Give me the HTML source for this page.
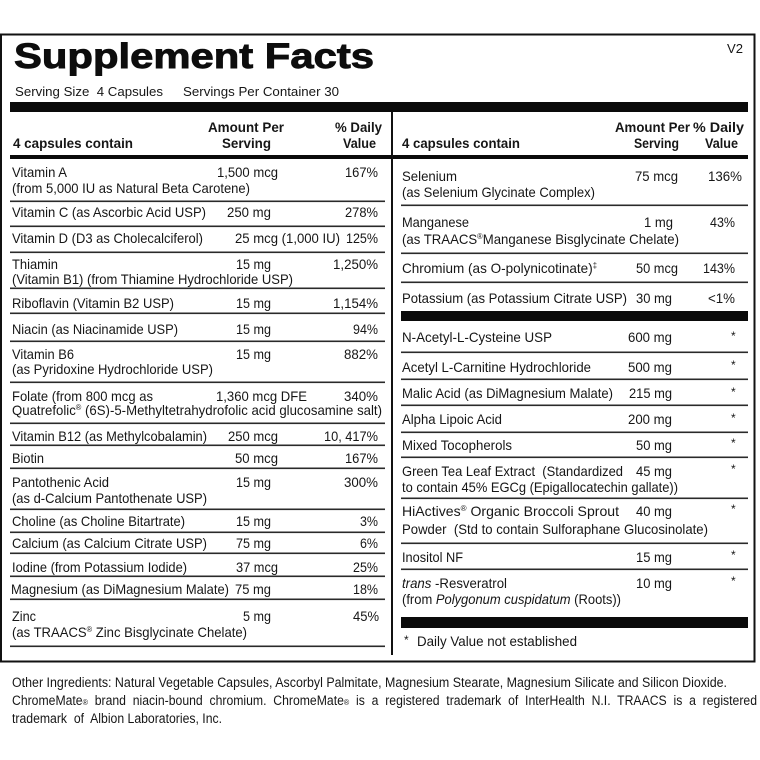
<!DOCTYPE html>
<html><head><meta charset="utf-8"><style>
html,body{margin:0;padding:0;background:#fff;}
svg{display:block;}
text{font-family:"Liberation Sans",Arial,sans-serif;font-size:14px;fill:#161616;}
.b{font-weight:bold;}
.s{font-size:13px;}
.f{font-size:13.5px;}
.t{font-size:35px;font-weight:bold;fill:#0d0d0d;stroke:#0d0d0d;stroke-width:0.9px;}
.a{font-size:12px;}
</style></head><body>
<svg width="760" height="760" viewBox="0 0 760 760" xmlns="http://www.w3.org/2000/svg">
<rect x="0" y="0" width="760" height="760" fill="#fff"/>
<rect x="1" y="34.5" width="753.5" height="627" fill="none" stroke="#111" stroke-width="2"/>
<text class="t" x="14" y="68" textLength="360" lengthAdjust="spacingAndGlyphs">Supplement Facts</text>
<text class="s" x="727" y="53" textLength="16" lengthAdjust="spacingAndGlyphs">V2</text>
<text class="s" x="15" y="96" textLength="148" lengthAdjust="spacingAndGlyphs" xml:space="preserve">Serving Size  4 Capsules</text>
<text class="s" x="183" y="96" textLength="156" lengthAdjust="spacingAndGlyphs">Servings Per Container 30</text>
<rect x="10" y="102" width="738" height="10" fill="#0a0a0a"/>
<rect x="391" y="112" width="2" height="543" fill="#111"/>
<rect x="10" y="155" width="382" height="4" fill="#0a0a0a"/>
<rect x="393" y="155" width="355" height="4" fill="#0a0a0a"/>
<text class="b" x="208" y="132" textLength="76" lengthAdjust="spacingAndGlyphs">Amount Per</text>
<text class="b" x="222" y="148" textLength="49" lengthAdjust="spacingAndGlyphs">Serving</text>
<text class="b" x="335" y="132" textLength="47" lengthAdjust="spacingAndGlyphs">% Daily</text>
<text class="b" x="343" y="148" textLength="33" lengthAdjust="spacingAndGlyphs">Value</text>
<text class="b" x="13" y="148" textLength="120" lengthAdjust="spacingAndGlyphs">4 capsules contain</text>
<text class="b" x="615" y="132" textLength="75" lengthAdjust="spacingAndGlyphs">Amount Per</text>
<text class="b" x="634" y="148" textLength="45" lengthAdjust="spacingAndGlyphs">Serving</text>
<text class="b" x="693" y="132" textLength="51" lengthAdjust="spacingAndGlyphs">% Daily</text>
<text class="b" x="705" y="148" textLength="33" lengthAdjust="spacingAndGlyphs">Value</text>
<text class="b" x="402" y="148" textLength="118" lengthAdjust="spacingAndGlyphs">4 capsules contain</text>

<g fill="#2a2a2a">
<rect x="10" y="200.5" width="375" height="1.6"/>
<rect x="10" y="225.5" width="375" height="1.6"/>
<rect x="10" y="251.5" width="375" height="1.6"/>
<rect x="10" y="287.5" width="375" height="1.6"/>
<rect x="10" y="312.5" width="375" height="1.6"/>
<rect x="10" y="340.5" width="375" height="1.6"/>
<rect x="10" y="381.5" width="375" height="1.6"/>
<rect x="10" y="422.5" width="375" height="1.6"/>
<rect x="10" y="444.5" width="375" height="1.6"/>
<rect x="10" y="467.5" width="375" height="1.6"/>
<rect x="10" y="508.5" width="375" height="1.6"/>
<rect x="10" y="531.5" width="375" height="1.6"/>
<rect x="10" y="552.5" width="375" height="1.6"/>
<rect x="10" y="575.5" width="375" height="1.6"/>
<rect x="10" y="598.5" width="375" height="1.6"/>
<rect x="10" y="645.5" width="375" height="1.6"/>
</g>

<text x="12" y="177" textLength="55" lengthAdjust="spacingAndGlyphs">Vitamin A</text>
<text x="217" y="177" textLength="61" lengthAdjust="spacingAndGlyphs">1,500 mcg</text>
<text x="345" y="177" textLength="33" lengthAdjust="spacingAndGlyphs">167%</text>
<text x="12" y="193" textLength="238" lengthAdjust="spacingAndGlyphs">(from 5,000 IU as Natural Beta Carotene)</text>

<text x="12" y="217" textLength="194" lengthAdjust="spacingAndGlyphs">Vitamin C (as Ascorbic Acid USP)</text>
<text x="227" y="217" textLength="44" lengthAdjust="spacingAndGlyphs">250 mg</text>
<text x="345" y="217" textLength="33" lengthAdjust="spacingAndGlyphs">278%</text>

<text x="12" y="243" textLength="191" lengthAdjust="spacingAndGlyphs">Vitamin D (D3 as Cholecalciferol)</text>
<text x="235" y="243" textLength="105" lengthAdjust="spacingAndGlyphs">25 mcg (1,000 IU)</text>
<text x="346" y="243" textLength="32" lengthAdjust="spacingAndGlyphs">125%</text>

<text x="12" y="269" textLength="46" lengthAdjust="spacingAndGlyphs">Thiamin</text>
<text x="236" y="269" textLength="35" lengthAdjust="spacingAndGlyphs">15 mg</text>
<text x="333" y="269" textLength="45" lengthAdjust="spacingAndGlyphs">1,250%</text>
<text x="12" y="284" textLength="281" lengthAdjust="spacingAndGlyphs">(Vitamin B1) (from Thiamine Hydrochloride USP)</text>

<text x="12" y="308" textLength="162" lengthAdjust="spacingAndGlyphs">Riboflavin (Vitamin B2 USP)</text>
<text x="236" y="308" textLength="35" lengthAdjust="spacingAndGlyphs">15 mg</text>
<text x="333" y="308" textLength="45" lengthAdjust="spacingAndGlyphs">1,154%</text>

<text x="12" y="334" textLength="166" lengthAdjust="spacingAndGlyphs">Niacin (as Niacinamide USP)</text>
<text x="236" y="334" textLength="35" lengthAdjust="spacingAndGlyphs">15 mg</text>
<text x="353" y="334" textLength="25" lengthAdjust="spacingAndGlyphs">94%</text>

<text x="12" y="359" textLength="62" lengthAdjust="spacingAndGlyphs">Vitamin B6</text>
<text x="236" y="359" textLength="35" lengthAdjust="spacingAndGlyphs">15 mg</text>
<text x="344" y="359" textLength="34" lengthAdjust="spacingAndGlyphs">882%</text>
<text x="12" y="374" textLength="201" lengthAdjust="spacingAndGlyphs">(as Pyridoxine Hydrochloride USP)</text>

<text x="12" y="401" textLength="141" lengthAdjust="spacingAndGlyphs">Folate (from 800 mcg as</text>
<text x="216" y="401" textLength="91" lengthAdjust="spacingAndGlyphs">1,360 mcg DFE</text>
<text x="344" y="401" textLength="34" lengthAdjust="spacingAndGlyphs">340%</text>
<text x="12" y="415" textLength="370" lengthAdjust="spacingAndGlyphs">Quatrefolic<tspan font-size="8" dy="-5">®</tspan><tspan dy="5"> (6S)-5-Methyltetrahydrofolic acid glucosamine salt)</tspan></text>

<text x="12" y="441" textLength="195" lengthAdjust="spacingAndGlyphs">Vitamin B12 (as Methylcobalamin)</text>
<text x="228" y="441" textLength="50" lengthAdjust="spacingAndGlyphs">250 mcg</text>
<text x="324" y="441" textLength="54" lengthAdjust="spacingAndGlyphs">10, 417%</text>

<text x="12" y="463" textLength="32" lengthAdjust="spacingAndGlyphs">Biotin</text>
<text x="235" y="463" textLength="43" lengthAdjust="spacingAndGlyphs">50 mcg</text>
<text x="345" y="463" textLength="33" lengthAdjust="spacingAndGlyphs">167%</text>

<text x="12" y="487" textLength="97" lengthAdjust="spacingAndGlyphs">Pantothenic Acid</text>
<text x="236" y="487" textLength="35" lengthAdjust="spacingAndGlyphs">15 mg</text>
<text x="344" y="487" textLength="34" lengthAdjust="spacingAndGlyphs">300%</text>
<text x="12" y="503" textLength="195" lengthAdjust="spacingAndGlyphs">(as d-Calcium Pantothenate USP)</text>

<text x="12" y="526" textLength="173" lengthAdjust="spacingAndGlyphs">Choline (as Choline Bitartrate)</text>
<text x="236" y="526" textLength="35" lengthAdjust="spacingAndGlyphs">15 mg</text>
<text x="360" y="526" textLength="18" lengthAdjust="spacingAndGlyphs">3%</text>

<text x="12" y="548" textLength="195" lengthAdjust="spacingAndGlyphs">Calcium (as Calcium Citrate USP)</text>
<text x="236" y="548" textLength="35" lengthAdjust="spacingAndGlyphs">75 mg</text>
<text x="360" y="548" textLength="18" lengthAdjust="spacingAndGlyphs">6%</text>

<text x="12" y="572" textLength="175" lengthAdjust="spacingAndGlyphs">Iodine (from Potassium Iodide)</text>
<text x="236" y="572" textLength="42" lengthAdjust="spacingAndGlyphs">37 mcg</text>
<text x="353" y="572" textLength="25" lengthAdjust="spacingAndGlyphs">25%</text>

<text x="11" y="594" textLength="218" lengthAdjust="spacingAndGlyphs">Magnesium (as DiMagnesium Malate)</text>
<text x="235" y="594" textLength="36" lengthAdjust="spacingAndGlyphs">75 mg</text>
<text x="353" y="594" textLength="25" lengthAdjust="spacingAndGlyphs">18%</text>

<text x="12" y="621" textLength="24" lengthAdjust="spacingAndGlyphs">Zinc</text>
<text x="243" y="621" textLength="28" lengthAdjust="spacingAndGlyphs">5 mg</text>
<text x="353" y="621" textLength="26" lengthAdjust="spacingAndGlyphs">45%</text>
<text x="12" y="637" textLength="235" lengthAdjust="spacingAndGlyphs">(as TRAACS<tspan font-size="8" dy="-5">®</tspan><tspan dy="5"> Zinc Bisglycinate Chelate)</tspan></text>

<g fill="#2a2a2a">
<rect x="401" y="204.5" width="347" height="1.6"/>
<rect x="401" y="252.5" width="347" height="1.6"/>
<rect x="401" y="281.5" width="347" height="1.6"/>
<rect x="401" y="351.5" width="347" height="1.6"/>
<rect x="401" y="378.5" width="347" height="1.6"/>
<rect x="401" y="404.5" width="347" height="1.6"/>
<rect x="401" y="431.5" width="347" height="1.6"/>
<rect x="401" y="456.5" width="347" height="1.6"/>
<rect x="401" y="497.5" width="347" height="1.6"/>
<rect x="401" y="542.5" width="347" height="1.6"/>
<rect x="401" y="568.5" width="347" height="1.6"/>
</g>
<rect x="401" y="311" width="347" height="10" fill="#0a0a0a"/>
<rect x="401" y="617" width="347" height="11" fill="#0a0a0a"/>

<text x="402" y="181" textLength="55" lengthAdjust="spacingAndGlyphs">Selenium</text>
<text x="635" y="181" textLength="43" lengthAdjust="spacingAndGlyphs">75 mcg</text>
<text x="708" y="181" textLength="34" lengthAdjust="spacingAndGlyphs">136%</text>
<text x="402" y="197" textLength="193" lengthAdjust="spacingAndGlyphs">(as Selenium Glycinate Complex)</text>

<text x="402" y="227" textLength="67" lengthAdjust="spacingAndGlyphs">Manganese</text>
<text x="644" y="227" textLength="29" lengthAdjust="spacingAndGlyphs">1 mg</text>
<text x="710" y="227" textLength="25" lengthAdjust="spacingAndGlyphs">43%</text>
<text x="402" y="244" textLength="277" lengthAdjust="spacingAndGlyphs">(as TRAACS<tspan font-size="8" dy="-5">®</tspan><tspan dy="5">Manganese Bisglycinate Chelate)</tspan></text>

<text x="402" y="273" textLength="195" lengthAdjust="spacingAndGlyphs">Chromium (as O-polynicotinate)<tspan font-size="8" dy="-5">‡</tspan></text>
<text x="636" y="273" textLength="42" lengthAdjust="spacingAndGlyphs">50 mcg</text>
<text x="703" y="273" textLength="32" lengthAdjust="spacingAndGlyphs">143%</text>

<text x="402" y="303" textLength="225" lengthAdjust="spacingAndGlyphs">Potassium (as Potassium Citrate USP)</text>
<text x="636" y="303" textLength="36" lengthAdjust="spacingAndGlyphs">30 mg</text>
<text x="708" y="303" textLength="27" lengthAdjust="spacingAndGlyphs">&lt;1%</text>

<text x="402" y="342" textLength="150" lengthAdjust="spacingAndGlyphs">N-Acetyl-L-Cysteine USP</text>
<text x="628" y="342" textLength="44" lengthAdjust="spacingAndGlyphs">600 mg</text>
<text class="a" x="731" y="340">*</text>

<text x="402" y="372" textLength="189" lengthAdjust="spacingAndGlyphs">Acetyl L-Carnitine Hydrochloride</text>
<text x="628" y="372" textLength="44" lengthAdjust="spacingAndGlyphs">500 mg</text>
<text class="a" x="731" y="369">*</text>

<text x="402" y="398" textLength="211" lengthAdjust="spacingAndGlyphs">Malic Acid (as DiMagnesium Malate)</text>
<text x="629" y="398" textLength="43" lengthAdjust="spacingAndGlyphs">215 mg</text>
<text class="a" x="731" y="396">*</text>

<text x="402" y="424" textLength="100" lengthAdjust="spacingAndGlyphs">Alpha Lipoic Acid</text>
<text x="628" y="424" textLength="44" lengthAdjust="spacingAndGlyphs">200 mg</text>
<text class="a" x="731" y="422">*</text>

<text x="402" y="450" textLength="110" lengthAdjust="spacingAndGlyphs">Mixed Tocopherols</text>
<text x="636" y="450" textLength="36" lengthAdjust="spacingAndGlyphs">50 mg</text>
<text class="a" x="731" y="447">*</text>

<text x="402" y="476" textLength="221" lengthAdjust="spacingAndGlyphs" xml:space="preserve">Green Tea Leaf Extract  (Standardized</text>
<text x="636" y="476" textLength="36" lengthAdjust="spacingAndGlyphs">45 mg</text>
<text class="a" x="731" y="473">*</text>
<text x="402" y="492" textLength="276" lengthAdjust="spacingAndGlyphs">to contain 45% EGCg (Epigallocatechin gallate))</text>

<text x="402" y="516" textLength="217" lengthAdjust="spacingAndGlyphs">HiActives<tspan font-size="8" dy="-5">®</tspan><tspan dy="5"> Organic Broccoli Sprout</tspan></text>
<text x="636" y="516" textLength="36" lengthAdjust="spacingAndGlyphs">40 mg</text>
<text class="a" x="731" y="513">*</text>
<text x="402" y="534" textLength="306" lengthAdjust="spacingAndGlyphs" xml:space="preserve">Powder  (Std to contain Sulforaphane Glucosinolate)</text>

<text x="402" y="562" textLength="61" lengthAdjust="spacingAndGlyphs">Inositol NF</text>
<text x="636" y="562" textLength="36" lengthAdjust="spacingAndGlyphs">15 mg</text>
<text class="a" x="731" y="559">*</text>

<text x="402" y="588" textLength="105" lengthAdjust="spacingAndGlyphs"><tspan font-style="italic">trans</tspan> -Resveratrol</text>
<text x="636" y="588" textLength="36" lengthAdjust="spacingAndGlyphs">10 mg</text>
<text class="a" x="731" y="585">*</text>
<text x="402" y="604" textLength="219" lengthAdjust="spacingAndGlyphs">(from <tspan font-style="italic">Polygonum cuspidatum</tspan> (Roots))</text>

<text class="a" x="404" y="644">*</text>
<text x="417" y="646" textLength="160" lengthAdjust="spacingAndGlyphs">Daily Value not established</text>

<text class="f" x="12" y="687" textLength="715" lengthAdjust="spacingAndGlyphs">Other Ingredients: Natural Vegetable Capsules, Ascorbyl Palmitate, Magnesium Stearate, Magnesium Silicate and Silicon Dioxide.</text>
<text class="f" x="12" y="705" textLength="745" lengthAdjust="spacingAndGlyphs" xml:space="preserve">ChromeMate<tspan font-size="8">®</tspan>  brand  niacin-bound  chromium.  ChromeMate<tspan font-size="8">®</tspan>  is  a  registered  trademark  of  InterHealth  N.I.  TRAACS  is  a  registered</text>
<text class="f" x="12" y="723" textLength="210" lengthAdjust="spacingAndGlyphs" xml:space="preserve">trademark  of  Albion Laboratories, Inc.</text>
</svg>
</body></html>
